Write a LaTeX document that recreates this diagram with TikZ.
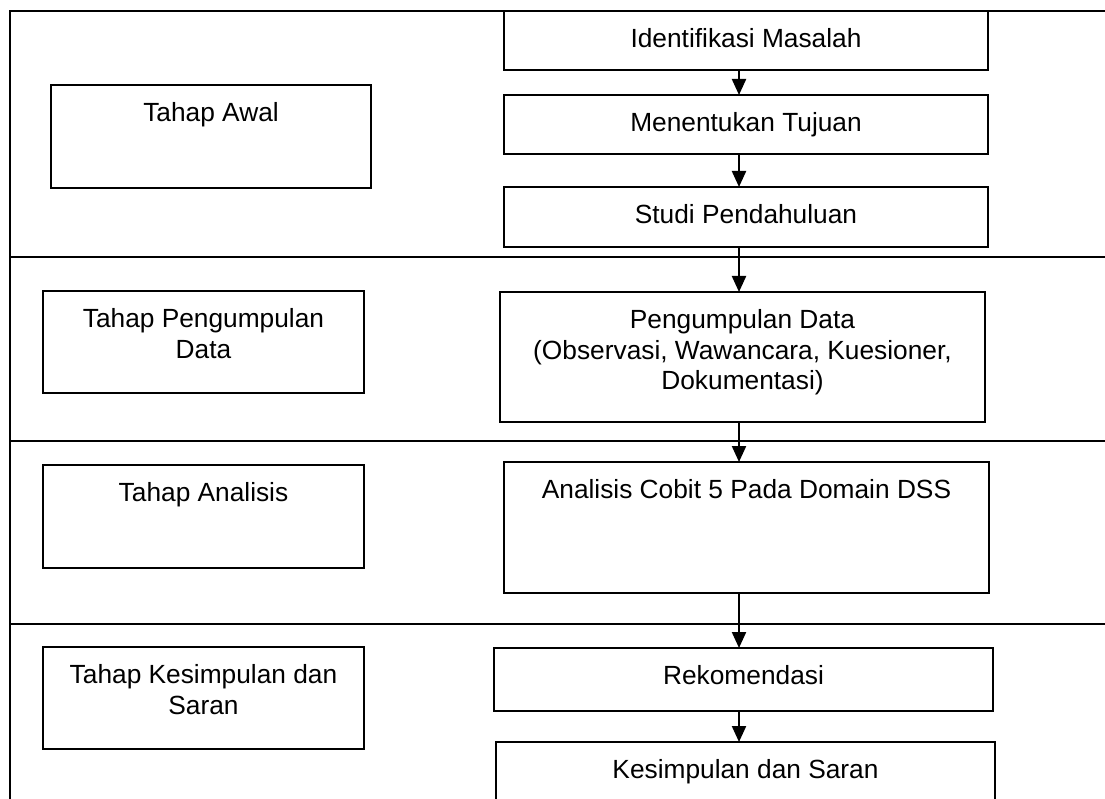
\documentclass[tikz,border=0pt]{standalone}
\usepackage{fontspec}
\setmainfont{Liberation Sans}
\usetikzlibrary{arrows.meta}
\begin{document}
\begin{tikzpicture}[x=1pt,y=-1pt,
  frame/.style={line width=2.2pt},
  box/.style={draw, line width=1.3pt, inner sep=0pt, outer sep=0pt, anchor=north west},
  txt/.style={anchor=north, inner sep=0pt, align=center, yshift=-17.5pt,
              font=\fontsize{26.3}{30.5}\selectfont},
  flow/.style={line width=2.2pt, -{Triangle[length=16pt,width=14pt]}}]
\useasboundingbox (0,0) rectangle (1105,799);
\clip (0,0) rectangle (1105,799);
% frame and lane separators
\draw[frame, line join=miter] (1106,11) -- (10,11) -- (10,800);
\draw[frame] (10,257) -- (1106,257);
\draw[frame] (10,441) -- (1106,441);
\draw[frame] (10,624) -- (1106,624);
% left stage boxes
\node[box, minimum width=320pt, minimum height=103pt] (l1) at (51,85) {};
\node[box, minimum width=321pt, minimum height=102pt] (l2) at (43,291) {};
\node[box, minimum width=321pt, minimum height=103pt] (l3) at (43,465) {};
\node[box, minimum width=321pt, minimum height=102pt] (l4) at (43,647) {};
\node[txt] (tl1) at (l1.north) {Tahap Awal};
\node[txt] (tl2) at (l2.north) {Tahap Pengumpulan\\Data};
\node[txt] (tl3) at (l3.north) {Tahap Analisis};
\node[txt] (tl4) at (l4.north) {Tahap Kesimpulan dan\\Saran};
% right process boxes
\node[box, minimum width=484pt, minimum height=59pt] (r1) at (504,11) {};
\node[box, minimum width=484pt, minimum height=59pt] (r2) at (504,95) {};
\node[box, minimum width=484pt, minimum height=60pt] (r3) at (504,187) {};
\node[box, minimum width=485pt, minimum height=130pt] (r4) at (500,292) {};
\node[box, minimum width=485pt, minimum height=131pt] (r5) at (504,462) {};
\node[box, minimum width=499pt, minimum height=63pt] (r6) at (494,648) {};
\node[box, minimum width=499pt, minimum height=90pt] (r7) at (496,742) {};
\node[txt] (tr1) at (r1.north) {Identifikasi Masalah};
\node[txt] (tr2) at (r2.north) {Menentukan Tujuan};
\node[txt] (tr3) at (r3.north) {Studi Pendahuluan};
\node[txt] (tr4) at (r4.north) {Pengumpulan Data\\(Observasi, Wawancara, Kuesioner,\\Dokumentasi)};
\node[txt] (tr5) at (r5.north) {Analisis Cobit 5 Pada Domain DSS};
\node[txt] (tr6) at (r6.north) {Rekomendasi};
\node[txt] (tr7) at (r7.north) {Kesimpulan dan Saran};
% connectors
\coordinate (ax) at (739,0);
\draw[flow] (r1.south -| ax) -- (r2.north -| ax);
\draw[flow] (r2.south -| ax) -- (r3.north -| ax);
\draw[flow] (r3.south -| ax) -- (r4.north -| ax);
\draw[flow] (r4.south -| ax) -- (r5.north -| ax);
\draw[flow] (r5.south -| ax) -- (r6.north -| ax);
\draw[flow] (r6.south -| ax) -- (r7.north -| ax);
\end{tikzpicture}
\end{document}
